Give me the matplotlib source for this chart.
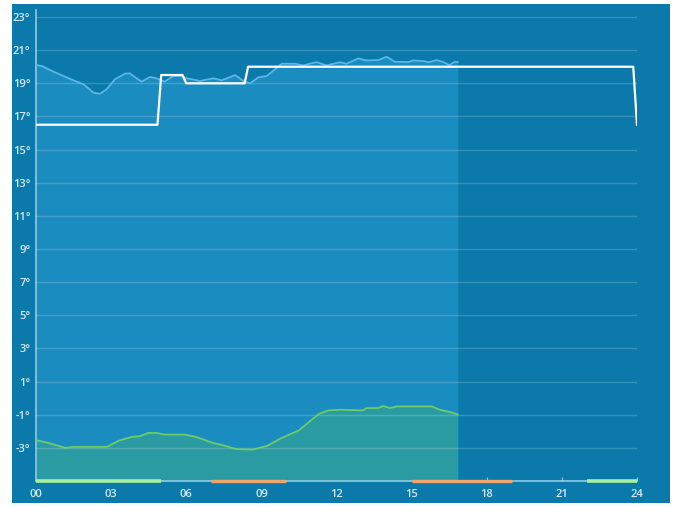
import matplotlib.pyplot as plt
from matplotlib.patches import Rectangle

# setpoint schedule (hour, degrees)
setpoint_hours = [0, 4.85, 5.0, 5.85, 6.0, 8.33, 8.47, 23.85, 24.0]
setpoint_temp = [16.5, 16.5, 19.5, 19.5, 19.0, 19.0, 20.0, 20.0, 16.5]

# indoor temperature measured so far
indoor_hours = [0, 0.24, 0.7, 1.1, 1.5, 1.9, 2.3, 2.56, 2.82, 3.15, 3.55, 3.75, 4.02,
                4.22, 4.55, 4.81, 5.14, 5.48, 5.81, 6.02, 6.55, 7.08, 7.42, 7.95,
                8.28, 8.55, 8.88, 9.21, 9.54, 9.81, 10.34, 10.67, 11.2, 11.6, 12.14,
                12.4, 12.87, 13.2, 13.67, 14.0, 14.33, 14.87, 15.07, 15.47, 15.67,
                16.0, 16.27, 16.5, 16.73, 16.84]
indoor_temp = [20.1, 20.04, 19.7, 19.44, 19.18, 18.94, 18.43, 18.37, 18.64, 19.24,
               19.58, 19.6, 19.3, 19.1, 19.38, 19.3, 19.1, 19.44, 19.44, 19.3, 19.14,
               19.3, 19.18, 19.5, 19.14, 19.0, 19.36, 19.44, 19.84, 20.18, 20.18,
               20.08, 20.28, 20.08, 20.27, 20.18, 20.5, 20.38, 20.4, 20.6, 20.3,
               20.28, 20.38, 20.34, 20.27, 20.4, 20.28, 20.1, 20.3, 20.28]

# outdoor temperature measured so far
outdoor_hours = [0, 0.44, 1.17, 1.5, 2.83, 3.29, 3.82, 4.15, 4.48, 4.81, 5.14, 5.94,
                 6.4, 7.06, 7.47, 8.02, 8.68, 9.23, 9.76, 10.5, 10.9, 11.3, 11.68,
                 12.15, 13.06, 13.2, 13.66, 13.87, 14.14, 14.4, 15.8, 16.13, 16.53,
                 16.84]
outdoor_temp = [-2.54, -2.68, -3.0, -2.94, -2.94, -2.58, -2.34, -2.3, -2.1, -2.1,
                -2.2, -2.2, -2.34, -2.7, -2.84, -3.08, -3.1, -2.88, -2.44, -1.94,
                -1.44, -0.94, -0.74, -0.7, -0.74, -0.6, -0.6, -0.48, -0.6, -0.5,
                -0.5, -0.7, -0.84, -0.98]

# heating mode periods along the time axis
eco_periods = [(0, 5), (22, 24)]
comfort_periods = [(7, 10), (15, 19)]

y_ticks = [-3, -1, 1, 3, 5, 7, 9, 11, 13, 15, 17, 19, 21, 23]
x_ticks = [0, 3, 6, 9, 12, 15, 18, 21, 24]

bg = '#0b7aab'
text_col = '#d4eaf5'
axis_col = '#8fcbe6'

fig = plt.figure(figsize=(6.79, 5.07), dpi=100, facecolor='white')
fig.patches.append(Rectangle((12 / 679, 4 / 507), 658 / 679, 499 / 507,
                             transform=fig.transFigure, facecolor=bg,
                             edgecolor='none', zorder=-1))

ax = fig.add_axes([36 / 679, 26 / 507, 601 / 679, 470.6 / 507])
ax.set_zorder(1)
ax.set_facecolor('none')
ax.set_xlim(0, 24)
ax.set_ylim(-5, 23.4)

for y in y_ticks:
    ax.axhline(y, color='white', alpha=0.18, lw=1, zorder=3)

ax.fill_between(indoor_hours, -5, indoor_temp, color='#1b8cbf', lw=0, zorder=1)
ax.fill_between(outdoor_hours, -5, outdoor_temp, color='#2b9ba3', lw=0, zorder=2)
ax.plot(indoor_hours, indoor_temp, color='#5cb6e6', lw=1.3, zorder=4)
ax.plot(outdoor_hours, outdoor_temp, color='#6ccc6a', lw=1.3, zorder=4)
ax.plot(setpoint_hours, setpoint_temp, color='white', lw=1.6, zorder=5)

for a, b in eco_periods:
    ax.plot([a, b], [-5, -5], color='#a8f0a0', lw=2.6, solid_capstyle='butt',
            clip_on=False, zorder=6)
for a, b in comfort_periods:
    ax.plot([a, b], [-5, -5], color='#f2a56a', lw=2.4, solid_capstyle='butt',
            clip_on=False, zorder=6)

for s in ['top', 'right']:
    ax.spines[s].set_visible(False)
for s in ['left', 'bottom']:
    ax.spines[s].set_color(axis_col)
    ax.spines[s].set_linewidth(1.2)

ax.set_yticks(y_ticks)
ax.set_yticklabels([f'{v}°' for v in y_ticks])
ax.set_xticks(x_ticks)
ax.set_xticklabels([f'{v:02d}' for v in x_ticks])
ax.tick_params(axis='y', length=0, pad=4, labelcolor=text_col, labelsize=8)
ax.tick_params(axis='x', direction='in', length=3, color=axis_col, pad=6,
               labelcolor=text_col, labelsize=8)
for lab in ax.get_xticklabels() + ax.get_yticklabels():
    lab.set_fontfamily('Open Sans')
    lab.set_fontweight('semibold')

fig.savefig('out.png', dpi=100, facecolor='white')
